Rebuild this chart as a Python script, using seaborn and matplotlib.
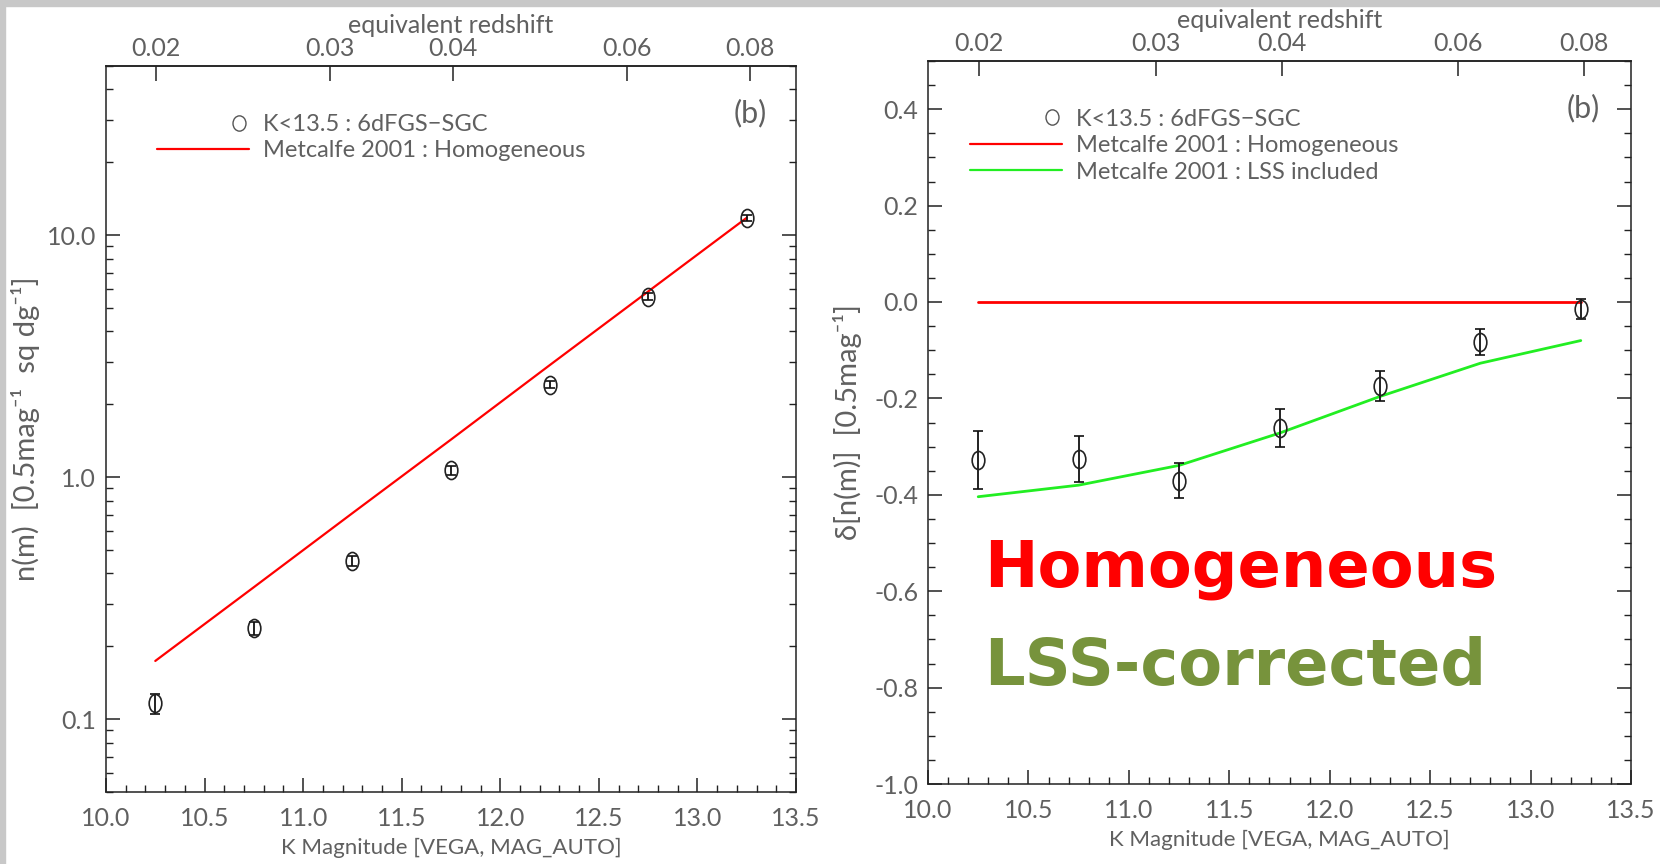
import numpy as np
import matplotlib
matplotlib.use('Agg')
import matplotlib.pyplot as plt
import seaborn as sns
from matplotlib.lines import Line2D
from matplotlib.path import Path
from matplotlib.patches import Rectangle
from matplotlib.legend_handler import HandlerLine2D
from matplotlib.ticker import MultipleLocator, LogLocator, NullFormatter, FuncFormatter, FormatStrFormatter

# magnitude bins (K band)
kmag = [10.25, 10.75, 11.25, 11.75, 12.25, 12.75, 13.25]

# left panel: number counts n(m)
counts = [0.1165, 0.237, 0.451, 1.066, 2.41, 5.57, 11.8]
counts_err = [0.011, 0.014, 0.020, 0.043, 0.084, 0.17, 0.35]
homog_counts = [0.174, 0.351, 0.710, 1.43, 2.90, 5.85, 11.8]

# right panel: delta[n(m)]
delta = [-0.328, -0.325, -0.371, -0.261, -0.174, -0.083, -0.014]
delta_err = [0.060, 0.048, 0.036, 0.040, 0.031, 0.027, 0.021]
homog_delta = [0.0, 0.0, 0.0, 0.0, 0.0, 0.0, 0.0]
lss_delta = [-0.404, -0.380, -0.339, -0.272, -0.196, -0.127, -0.080]

z_ticks = [0.02, 0.03, 0.04, 0.06, 0.08]

sns.set_style('ticks')
plt.rcParams['font.family'] = ['Lato', 'DejaVu Sans']

TXT = '#606060'
AX = '#222222'

# tall open ellipse like the IDL "O" symbol
circ = Path.unit_circle()
ellipse = Path(circ.vertices * [0.7, 1.0], circ.codes)
ellipse_leg = Path(circ.vertices * [0.85, 1.0], circ.codes)


class EdgeMarker(HandlerLine2D):
    # put the legend symbol near the right end of the handle box
    def get_xdata(self, legend, xdescent, ydescent, width, height, fontsize):
        off = 0.45 * fontsize
        xd = [-xdescent + width - 2 * off, -xdescent + width]
        return xd, [xd[0] + off]


def mag_to_z(m):
    return 10 ** ((np.asarray(m, dtype=float) - 18.75) / 5.0)


def z_to_mag(z):
    return 5.0 * np.log10(np.clip(np.asarray(z, dtype=float), 1e-6, None)) + 18.75


def style_axes(ax):
    for s in ax.spines.values():
        s.set_visible(True)
        s.set_linewidth(1.1)
        s.set_color(AX)
    ax.tick_params(axis='both', which='major', direction='in', length=10, width=1.1,
                   color=AX, top=False, right=True, labelsize=18, labelcolor=TXT)
    ax.tick_params(axis='both', which='minor', direction='in', length=5, width=1.0,
                   color=AX, top=False, right=True)
    ax.tick_params(axis='x', pad=11)
    ax.tick_params(axis='y', pad=7)
    ax.set_xlim(10.0, 13.5)
    ax.xaxis.set_major_locator(MultipleLocator(0.5))
    ax.xaxis.set_minor_locator(MultipleLocator(0.1))
    ax.xaxis.set_major_formatter(FormatStrFormatter('%.1f'))
    sec = ax.secondary_xaxis('top', functions=(mag_to_z, z_to_mag))
    sec.set_xticks(z_ticks)
    sec.xaxis.set_major_formatter(FormatStrFormatter('%.2f'))
    sec.tick_params(direction='in', length=11, width=1.1, color=AX, pad=4.5,
                    labelsize=18, labelcolor=TXT)
    sec.spines['top'].set_color(AX)
    sec.spines['top'].set_linewidth(1.1)
    ax.text(0.5, 1.056, 'equivalent redshift', transform=ax.transAxes,
            ha='center', va='center', fontsize=18, color=TXT)
    ax.set_xlabel('K Magnitude [VEGA, MAG_AUTO]', fontsize=16, color=TXT)
    ax.xaxis.label.set_va('center')


fig = plt.figure(figsize=(16.6, 8.64), dpi=100)
fig.patch.set_facecolor('white')
fig.patches.append(Rectangle((0, 1 - 6 / 864), 1, 6 / 864, transform=fig.transFigure,
                             color='#c8c8c8', zorder=0))
fig.patches.append(Rectangle((0, 0), 5 / 1660, 1, transform=fig.transFigure,
                             color='#c8c8c8', zorder=0))

# ---------------- left panel ----------------
ax1 = fig.add_axes([106 / 1660, 72 / 864, 690 / 1660, 726 / 864])
ax1.set_yscale('log')
ax1.set_ylim(0.05, 50)
sns.lineplot(x=kmag, y=homog_counts, ax=ax1, color='#ff0000', lw=1.6)
ax1.errorbar(kmag, counts, yerr=counts_err, fmt='none', ecolor='#111111',
             elinewidth=1.3, capsize=3.3, capthick=1.2)
ax1.plot(kmag, counts, ls='none', marker=ellipse, ms=13, mfc='none', mec='#222222', mew=1.2)
ax1.yaxis.set_major_locator(LogLocator(base=10))
ax1.yaxis.set_minor_locator(LogLocator(base=10, subs=np.arange(2, 10)))
ax1.yaxis.set_minor_formatter(NullFormatter())
ax1.yaxis.set_major_formatter(FuncFormatter(lambda v, _: f'{v:.1f}'))
style_axes(ax1)
ax1.xaxis.set_label_coords(0.5, -0.077)
ax1.set_ylabel('n(m)  [0.5mag⁻¹  sq dg⁻¹]', fontsize=21, color=TXT)
ax1.yaxis.label.set_va('center')
ax1.yaxis.set_label_coords(-0.116, 0.5)
ax1.text(0.933, 0.935, '(b)', transform=ax1.transAxes, ha='center', va='center',
         fontsize=22, color=TXT)

h_pts = Line2D([], [], ls='none', marker=ellipse_leg, ms=11, mfc='none', mec='#555555', mew=1.0)
h_hom = Line2D([], [], color='#ff0000', lw=1.6)
ax1.legend([h_pts, h_hom], ['K<13.5 : 6dFGS−SGC', 'Metcalfe 2001 : Homogeneous'],
           loc='upper left', bbox_to_anchor=(0.074, 0.934), frameon=False, fontsize=17,
           handlelength=3.9, handletextpad=0.6, labelspacing=0.23, borderpad=0,
           borderaxespad=0, labelcolor=TXT, handler_map={h_pts: EdgeMarker()})

# ---------------- right panel ----------------
ax2 = fig.add_axes([928 / 1660, 80 / 864, 703 / 1660, 723 / 864])
ax2.set_ylim(-1.0, 0.5)
sns.lineplot(x=kmag, y=homog_delta, ax=ax2, color='#ff0000', lw=2.0)
sns.lineplot(x=kmag, y=lss_delta, ax=ax2, color='#22ee22', lw=2.0)
ax2.errorbar(kmag, delta, yerr=delta_err, fmt='none', ecolor='#111111',
             elinewidth=1.3, capsize=3.3, capthick=1.2)
ax2.plot(kmag, delta, ls='none', marker=ellipse, ms=13, mfc='none', mec='#222222', mew=1.2)
ax2.yaxis.set_major_locator(MultipleLocator(0.2))
ax2.yaxis.set_minor_locator(MultipleLocator(0.05))
ax2.yaxis.set_major_formatter(FormatStrFormatter('%.1f'))
style_axes(ax2)
ax2.xaxis.set_label_coords(0.5, -0.078)
ax2.set_ylabel('δ[n(m)]  [0.5mag⁻¹]', fontsize=21, color=TXT)
ax2.yaxis.label.set_va('center')
ax2.yaxis.set_label_coords(-0.115, 0.5)
ax2.text(0.932, 0.935, '(b)', transform=ax2.transAxes, ha='center', va='center',
         fontsize=22, color=TXT)

h_lss = Line2D([], [], color='#22ee22', lw=1.6)
ax2.legend([h_pts, h_hom, h_lss],
           ['K<13.5 : 6dFGS−SGC', 'Metcalfe 2001 : Homogeneous', 'Metcalfe 2001 : LSS included'],
           loc='upper left', bbox_to_anchor=(0.060, 0.934), frameon=False, fontsize=17,
           handlelength=3.9, handletextpad=0.6, labelspacing=0.23, borderpad=0,
           borderaxespad=0, labelcolor=TXT, handler_map={h_pts: EdgeMarker()})

ax2.text(0.08, 0.2725, 'Homogeneous', transform=ax2.transAxes, ha='left', va='baseline',
         fontsize=46, fontweight='bold', color='#ff0000', family='DejaVu Sans')
ax2.text(0.08, 0.137, 'LSS-corrected', transform=ax2.transAxes, ha='left', va='baseline',
         fontsize=46, fontweight='bold', color='#77933c', family='DejaVu Sans')

fig.savefig('out.png', dpi=100)
